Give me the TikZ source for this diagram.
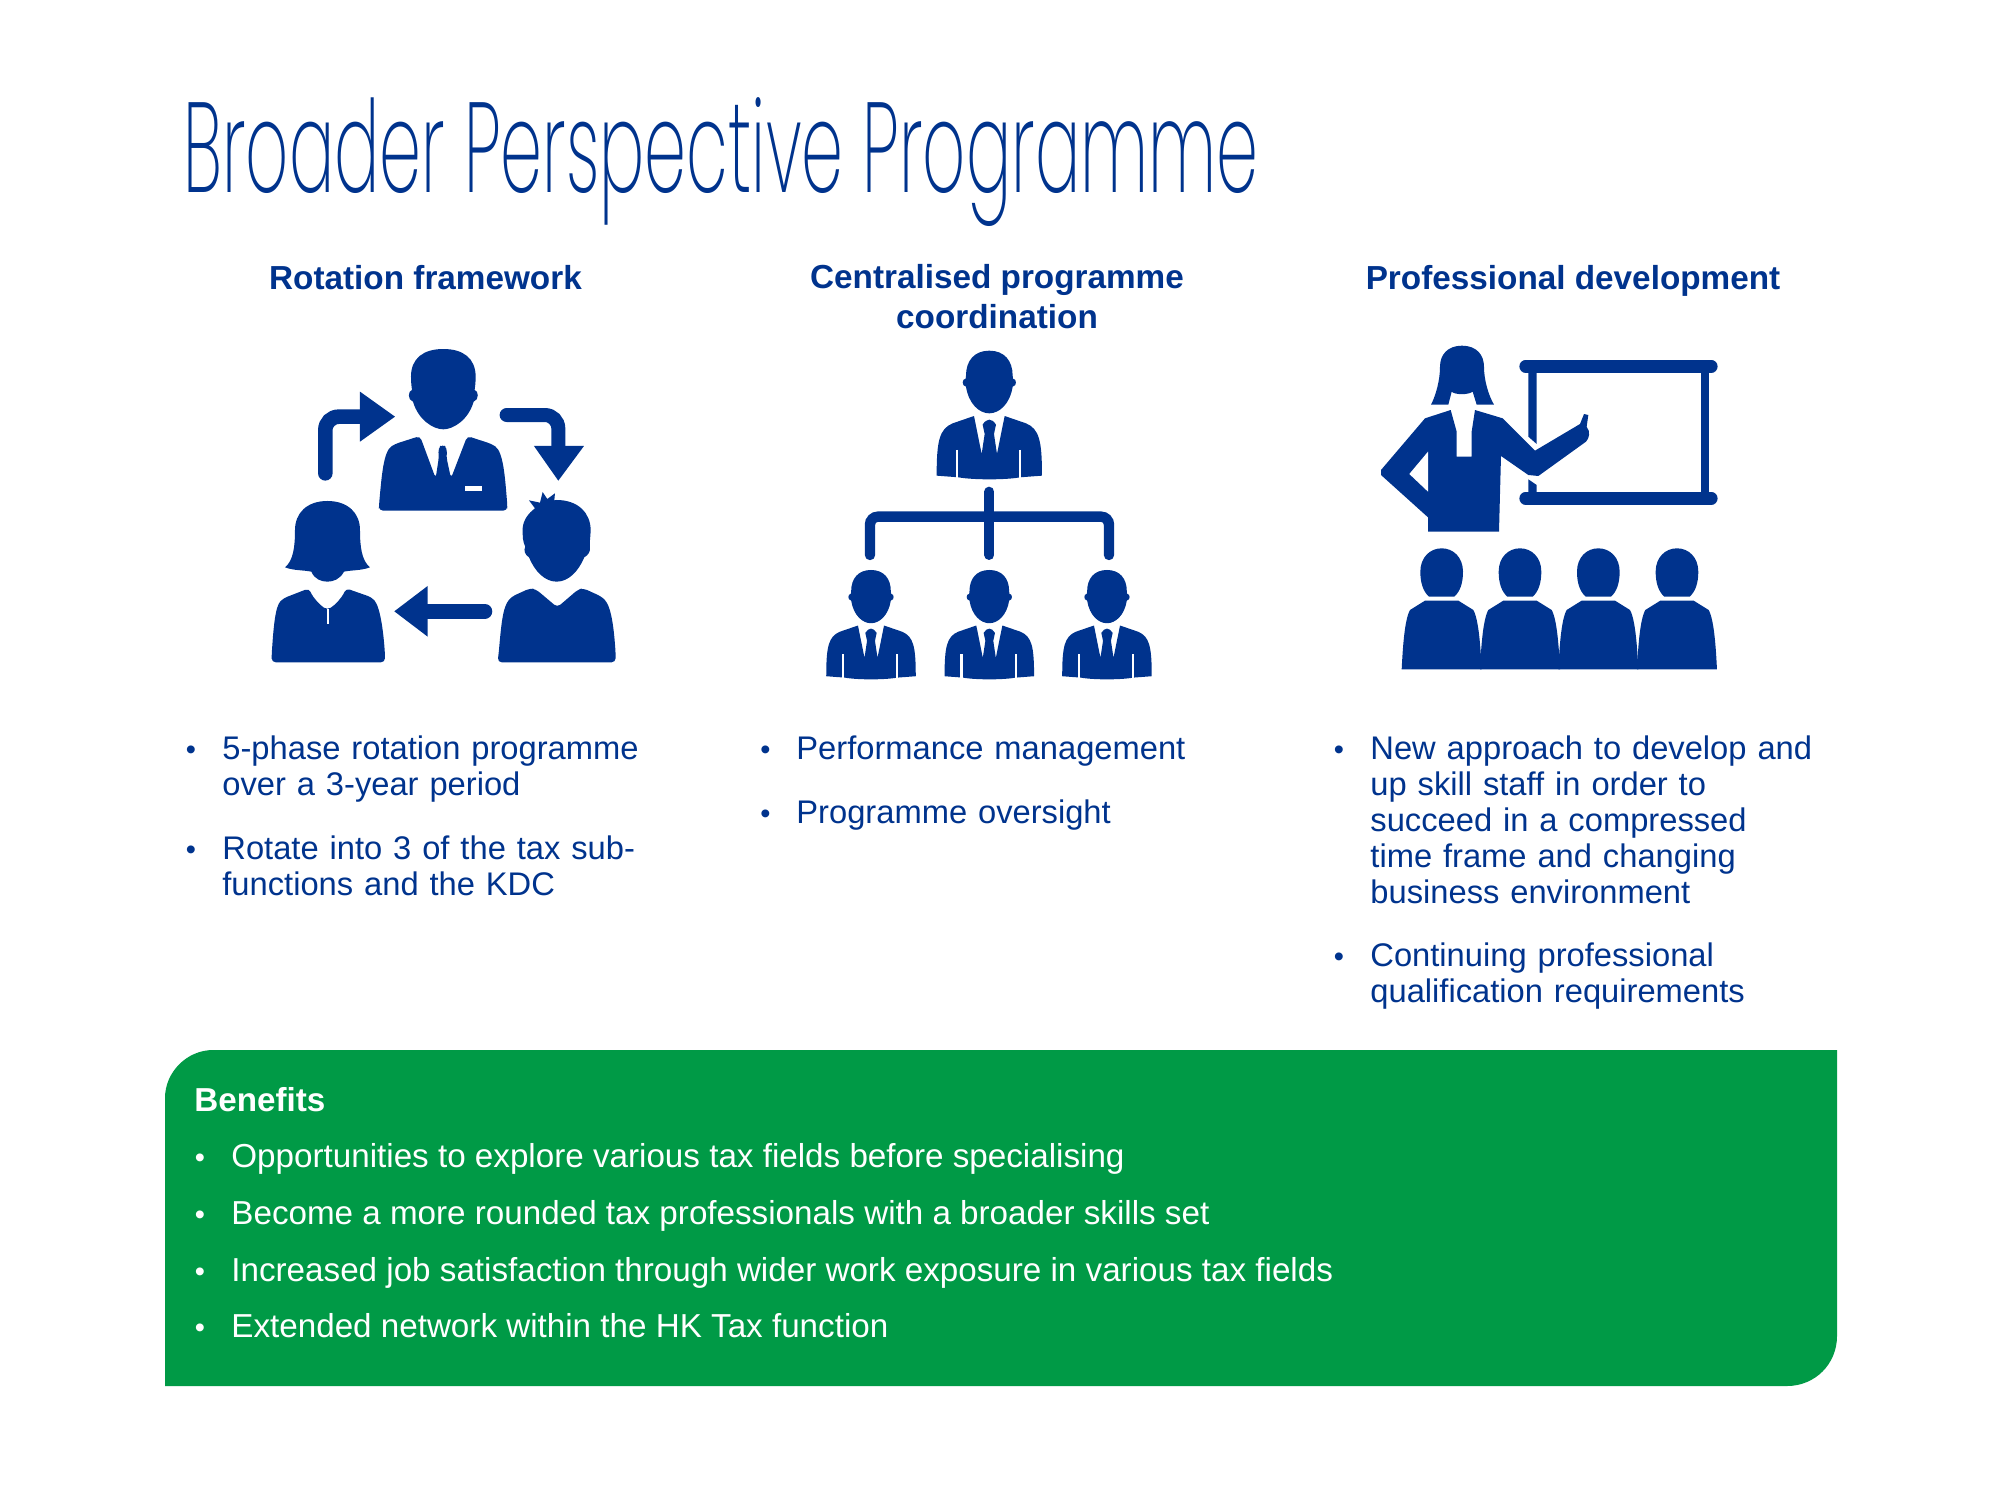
\documentclass[tikz,border=0pt]{standalone}
\usepackage{fontspec}
\setmainfont{Liberation Sans}
\newfontfamily\titlefont[FakeStretch=0.525]{Poppins ExtraLight}
\definecolor{kblue}{HTML}{00338D}
\definecolor{kgreen}{HTML}{009A46}
\tikzset{
	icon/.style={fill=kblue,draw=none},
	gap/.style={fill=white,draw=none},
	bar/.style={draw=kblue,line cap=round},
	head/.style={anchor=base,kblue,align=center,inner sep=0pt,font=\fontsize{16.65}{20}\selectfont\bfseries},
	body/.style={anchor=base west,kblue,inner sep=0pt,text width=#1,align=left,font=\fontsize{16.35}{18}\selectfont},
	body/.default=200pt,
	dot/.style={anchor=base,kblue,inner sep=0pt,font=\fontsize{14.5}{18}\selectfont},
	green/.style={anchor=base west,white,inner sep=0pt,font=\fontsize{16.6}{18}\selectfont}
}
%a man in a suit, drawn from the top of his head
\newcommand{\suitman}{
	\path[icon] (0,0) .. controls (45,0) and (70,30) .. (70,75) .. controls (70,80) and (70,82) .. (71,84)
		.. controls (82,84) and (84,106) .. (70,108) .. controls (62,160) and (30,188) .. (0,188)
		.. controls (-30,188) and (-62,160) .. (-70,108) .. controls (-84,106) and (-82,84) .. (-71,84)
		.. controls (-70,82) and (-70,80) .. (-70,75) .. controls (-70,30) and (-45,0) .. (0,0) -- cycle;
	\path[icon] (-46,196) -- (-23,310) -- (-14,250) -- (-20,222) .. controls (-8,202) and (8,202) .. (20,222)
		-- (14,250) -- (23,310) -- (46,196) -- (110,218) .. controls (150,235) and (158,270) .. (158,375)
		-- (92,380) .. controls (50,388) and (-50,388) .. (-92,380) -- (-158,375)
		.. controls (-158,270) and (-150,235) .. (-110,218) -- cycle;
	\draw[white,line width=1.1pt] (-98,298) -- (-98,384);
	\draw[white,line width=1.1pt] (93,298) -- (93,384);
}
\begin{document}
\begin{tikzpicture}[x=0.5pt,y=-0.5pt]
	\useasboundingbox (0,0) rectangle (2000,1500);
	%title
	\node[anchor=base west,kblue,inner sep=0pt,font=\fontsize{64}{70}\selectfont\titlefont] (title) at (183,192) {Broader Perspective Programme};

	%column headings
	\node[head] (headrot) at (425.5,289) {Rotation framework};
	\node[head,anchor=north] (headcen) at (997,263.5) {Centralised programme\\coordination};
	\node[head] (headpro) at (1573,289) {Professional development};

	%rotation icon
	\begin{scope}[shift={(240,320)},scale=0.3333]
		%top man
		\path[icon] (610,87) .. controls (670,87) and (707,115) .. (707,170) .. controls (707,190) and (705,200) .. (704,210)
			.. controls (716,212) and (718,240) .. (701,245) .. controls (685,300) and (640,328) .. (610,328)
			.. controls (580,328) and (535,300) .. (519,245) .. controls (502,240) and (504,212) .. (516,210)
			.. controls (515,200) and (513,190) .. (513,170) .. controls (513,115) and (550,87) .. (610,87) -- cycle;
		\path[icon,rounded corners=2pt] (417,572) -- (417,555) .. controls (425,470) and (430,395) .. (465,372)
			-- (540,348) -- (587,475) -- (597,410) -- (594,385) -- (608,372) -- (622,385) -- (619,410) -- (633,475)
			-- (682,348) -- (755,372) .. controls (790,395) and (795,470) .. (802,555) -- (802,572) -- cycle;
		\path[gap] (675,497) rectangle (727,513);
		%woman, left
		\path[icon] (262,543) .. controls (325,543) and (360,580) .. (360,630) .. controls (360,680) and (365,722) .. (390,742)
			.. controls (365,752) and (335,750) .. (312,755) .. controls (300,778) and (280,785) .. (262,785)
			.. controls (244,785) and (224,778) .. (214,755) .. controls (190,750) and (160,752) .. (135,742)
			.. controls (160,722) and (165,680) .. (165,630) .. controls (165,580) and (200,543) .. (262,543) -- cycle;
		\path[icon,rounded corners=2pt] (95,1027) -- (95,1005) .. controls (100,930) and (105,860) .. (130,835)
			-- (207,805) .. controls (220,835) and (240,855) .. (262,870) .. controls (285,855) and (305,835) .. (318,805)
			-- (395,832) .. controls (420,860) and (430,930) .. (435,1005) -- (435,1027) -- cycle;
		\draw[white,line width=1pt] (263,868) -- (263,912);
		%boy, right
		\path[icon] (950,540) .. controls (1015,540) and (1052,580) .. (1052,630) .. controls (1052,650) and (1048,665) .. (1050,680)
			.. controls (1052,695) and (1045,705) .. (1033,712) .. controls (1015,755) and (985,785) .. (950,785)
			.. controls (915,785) and (885,755) .. (867,712) .. controls (855,705) and (850,690) .. (856,680)
			.. controls (848,665) and (848,650) .. (848,625) .. controls (850,600) and (865,580) .. (885,565)
			-- (867,541) -- (900,548) -- (908,516) -- (922,537) -- (945,520) -- (943,541) -- cycle;
		\path[icon,rounded corners=2pt] (773,1027) -- (777,990) .. controls (785,900) and (790,860) .. (815,830)
			-- (870,805) -- (888,808) -- (952,862) -- (1015,808) -- (1030,805) -- (1085,830)
			.. controls (1115,860) and (1122,930) .. (1127,1000) -- (1127,1027) -- cycle;
		%arrows
		\draw[bar,line width=7.3pt,rounded corners=6.7pt] (256,460) |- (365,290);
		\path[icon] (360,215) -- (465,290) -- (360,365) -- cycle;
		\draw[bar,line width=7pt,rounded corners=6.7pt] (800,285) -| (955,385);
		\path[icon] (882,378) -- (1032,378) -- (955,482) -- cycle;
		\draw[bar,line width=7.3pt] (735,874) -- (560,874);
		\path[icon] (563,798) -- (563,950) -- (463,874) -- cycle;
	\end{scope}

	%hierarchy icon
	\begin{scope}[shift={(800,330)},scale=0.3333]
		\begin{scope}[shift={(568,62)}]
			\suitman
		\end{scope}
		\foreach \x in {213,568,921}{
			\begin{scope}[shift={(\x,720)},scale=0.85]
				\suitman
			\end{scope}
		}
		\draw[bar,line width=5pt] (568,485) -- (568,675);
		\draw[bar,line width=5.2pt,rounded corners=4pt] (210,675) |- (927,560) -- (927,675);
	\end{scope}

	%teaching icon
	\begin{scope}[shift={(1360,320)},scale=0.3333]
		\draw[bar,line width=6.3pt] (497,139) -- (1054,139);
		\draw[bar,line width=6.3pt] (497,535) -- (1054,535);
		\path[icon] (505,150) -- (530,150) -- (530,372) -- (505,350) -- cycle;
		\path[icon] (505,478) -- (530,495) -- (530,525) -- (505,525) -- cycle;
		\path[icon] (1022,150) rectangle (1048,525);
		%teacher
		\path[icon] (306,77) .. controls (350,77) and (372,105) .. (372,140) .. controls (372,180) and (385,225) .. (402,254)
			-- (350,254) -- (338,215) .. controls (325,225) and (285,225) .. (275,215) -- (265,254) -- (213,254)
			.. controls (228,225) and (240,180) .. (240,140) .. controls (240,105) and (262,77) .. (306,77) -- cycle;
		\path[icon] (272,270) -- (290,335) -- (290,410) -- (335,410) -- (335,335) -- (345,270) -- (428,295)
			-- (525,392) -- (660,312) -- (672,282) -- (685,285) -- (680,320) .. controls (692,335) and (688,355) .. (678,365)
			-- (535,468) -- (505,465) -- (423,408) -- (417,635) -- (204,635) -- (204,592) -- (63,465) -- (63,450)
			-- (195,295) -- cycle;
		\path[gap] (204,395) -- (148,462) -- (204,515) -- cycle;
		%students
		\foreach \x in {245,480,715,951}{
			\path[icon] (\x-38,830) .. controls ({\x-55},815) and ({\x-64},790) .. (\x-64,755)
				.. controls ({\x-64},712) and ({\x-35},685) .. (\x,685)
				.. controls ({\x+35},685) and ({\x+64},712) .. (\x+64,755)
				.. controls ({\x+64},790) and ({\x+55},815) .. (\x+38,830) -- cycle;
			\path[icon] (\x-120,1048) .. controls ({\x-117},990) and ({\x-112},900) .. (\x-95,870)
				-- (\x-50,842) -- (\x+50,842) -- (\x+95,870) .. controls ({\x+112},900) and ({\x+117},990) .. (\x+120,1048) -- cycle;
		}
	\end{scope}

	%bullets of the three columns
	\node[dot] (b1) at (191,759) {\textbullet};
	\node[body=230pt] (t1) at (222,759) {5-phase rotation programme over a 3-year period};
	\node[dot] (b2) at (191,859) {\textbullet};
	\node[body=230pt] (t2) at (222,859) {Rotate into 3 of the tax sub-\\functions and the KDC};
	\node[dot] (b3) at (765.5,759) {\textbullet};
	\node[body=230pt] (t3) at (796,759) {Performance management};
	\node[dot] (b4) at (765.5,823) {\textbullet};
	\node[body=230pt] (t4) at (796,823) {Programme oversight};
	\node[dot] (b5) at (1339,759) {\textbullet};
	\node[body=230pt] (t5) at (1370,759) {New approach to develop and\\up skill staff in order to\\succeed in a compressed\\time frame and changing\\business environment};
	\node[dot] (b6) at (1339,966) {\textbullet};
	\node[body=230pt] (t6) at (1370,966) {Continuing professional\\qualification requirements};

	%benefits panel
	\path[fill=kgreen] (165,1386) -- (165,1098) .. controls (165,1072) and (187,1050) .. (213,1050) -- (1837,1050)
		-- (1837,1336) .. controls (1837,1364) and (1815,1386) .. (1787,1386) -- cycle;
	\node[green,font=\fontsize{16.6}{18}\selectfont\bfseries] (benefits) at (194,1111) {Benefits};
	\node[green] (g1) at (231,1167) {Opportunities to explore various tax fields before specialising};
	\node[green] (g2) at (231,1224.5) {Become a more rounded tax professionals with a broader skills set};
	\node[green] (g3) at (231,1281.5) {Increased job satisfaction through wider work exposure in various tax fields};
	\node[green] (g4) at (231,1337.5) {Extended network within the HK Tax function};
	\foreach \y/\n in {1167/1,1224.5/2,1281.5/3,1337.5/4}
		\node[white,anchor=base,inner sep=0pt,font=\fontsize{14.5}{18}\selectfont] (gb\n) at (200,\y) {\textbullet};
\end{tikzpicture}
\end{document}
